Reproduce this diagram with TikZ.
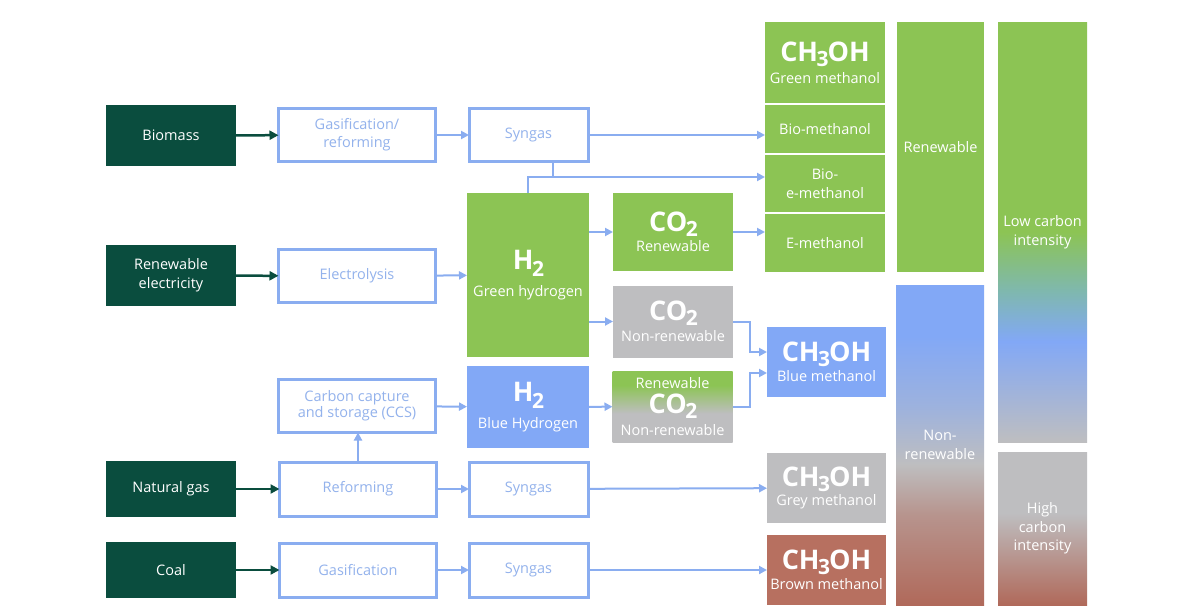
\documentclass[tikz,border=0pt]{standalone}
\usepackage{fontspec}
\setmainfont{Open Sans}
\usetikzlibrary{arrows.meta,positioning}
\definecolor{MethGreen}{HTML}{8CC454}
\definecolor{MethBlue}{HTML}{82A8F6}
\definecolor{MethGrey}{HTML}{BEBEC0}
\definecolor{MethBrown}{HTML}{B77060}
\definecolor{ColBrown}{HTML}{B0695A}
\definecolor{ColTeal}{HTML}{7FB8AE}
\definecolor{SrcDark}{HTML}{0A4D3E}
\definecolor{LineBlue}{HTML}{8AADF0}
\definecolor{TextBlue}{HTML}{93B2EC}
\pgfdeclareverticalshading{co2mix}{100bp}{color(0bp)=(MethGrey); color(25bp)=(MethGrey); color(45bp)=(MethGrey); color(65bp)=(MethGreen); color(75bp)=(MethGreen); color(100bp)=(MethGreen)}
\pgfdeclareverticalshading{nonren}{100bp}{color(0bp)=(ColBrown); color(25bp)=(ColBrown); color(39bp)=(ColBrown!50!MethGrey); color(47bp)=(MethGrey); color(56bp)=(MethBlue!55!MethGrey); color(67bp)=(MethBlue); color(75bp)=(MethBlue); color(100bp)=(MethBlue)}
\pgfdeclareverticalshading{lowcarb}{100bp}{color(0bp)=(MethGrey); color(25bp)=(MethGrey); color(31bp)=(MethBlue!50!MethGrey); color(37bp)=(MethBlue); color(43bp)=(ColTeal); color(50bp)=(MethGreen); color(75bp)=(MethGreen); color(100bp)=(MethGreen)}
\pgfdeclareverticalshading{highcarb}{100bp}{color(0bp)=(ColBrown); color(25bp)=(ColBrown); color(55bp)=(MethGrey); color(75bp)=(MethGrey); color(100bp)=(MethGrey)}
\newcommand{\labelsize}{\fontsize{14.5}{19}\selectfont}
\newcommand{\formula}[1]{{\fontsize{27}{28}\selectfont\bfseries #1}}
\newcommand{\lowsub}[2][5pt]{\kern-1.5pt\raisebox{-#1}{\fontsize{21}{21}\selectfont #2}\kern-1pt}
\tikzset{
  srcbox/.style={fill=SrcDark,text=white,minimum width=130pt,minimum height=61pt,inner sep=0pt,outer sep=0pt,align=center,font=\labelsize},
  procbox/.style={draw=LineBlue,line width=3pt,fill=white,text=TextBlue,minimum width=157pt,minimum height=53pt,inner sep=0pt,outer sep=0pt,align=center,font=\labelsize},
  synbox/.style={procbox,minimum width=119pt},
  fillbox/.style={text=white,inner sep=0pt,outer sep=0pt,align=center,font=\labelsize},
  co2box/.style={fillbox,minimum width=120pt},
  methbox/.style={fillbox,minimum width=120pt},
  colbox/.style={fillbox,minimum width=88pt},
  flowarrow/.style={-{Triangle[length=8pt,width=8pt]},line width=2pt,draw=LineBlue},
  flowline/.style={line width=2pt,draw=LineBlue},
  srcarrow/.style={-{Triangle[length=9pt,width=9pt]},line width=2.5pt,draw=SrcDark}
}
\begin{document}
\begin{tikzpicture}[x=1pt,y=-1pt]
\useasboundingbox[fill=white] (0,0) rectangle (1200,616);
% sources
\node[srcbox] (biomass) at (171,135.5) {Biomass};
\node[srcbox] (renel) at (171,275.5) {Renewable\\electricity};
\node[srcbox,minimum height=56pt] (natgas) at (171,489) {Natural gas};
\node[srcbox,minimum height=56pt] (coal) at (171,570) {Coal};
% processes
\node[procbox] (gasref) at (357,135) {Gasification/\\[-1pt]reforming};
\node[procbox] (electro) at (357,276) {Electrolysis};
\node[procbox] (ccs) at (357,406) {Carbon capture\\[-3pt]and storage (CCS)};
\node[procbox,minimum height=54pt] (reform) at (358,489) {Reforming};
\node[procbox,minimum height=54pt] (gasif) at (358,570) {Gasification};
\node[synbox] (syn1) at (528.5,135) {Syngas};
\node[synbox,minimum height=54pt] (syn2) at (528.5,489) {Syngas};
\node[synbox,minimum height=54pt] (syn3) at (528.5,570) {Syngas};
% hydrogen
\node[fillbox,fill=MethGreen,minimum width=122pt,minimum height=164pt] (h2green) at (528,275) {\formula{H\lowsub[7pt]{2}}\\[8pt]Green hydrogen};
\node[fillbox,fill=MethBlue,minimum width=122pt,minimum height=82pt] (h2blue) at (528,407) {\formula{H\lowsub[7pt]{2}}\\[8pt]Blue Hydrogen};
% carbon dioxide
\node[co2box,fill=MethGreen,minimum height=78pt] (co2ren) at (673,232) {\formula{CO\lowsub{2}}\\[1pt]Renewable};
\node[co2box,fill=MethGrey,minimum height=72pt] (co2non) at (673,321.5) {\formula{CO\lowsub{2}}\\[2pt]Non-renewable};
\node[co2box,shading=co2mix,minimum height=71pt] (co2mix) at (672.5,406.5) {Renewable\\[4.5pt]\formula{CO\lowsub{2}}\\[3pt]Non-renewable};
% methanol
\node[methbox,fill=MethGreen,minimum height=81pt] (mgreen) at (825,62.5) {\formula{CH\lowsub{3}OH}\\[3pt]Green methanol};
\node[methbox,fill=MethGreen,minimum height=48pt] (mbio) at (825,129) {Bio-methanol};
\node[methbox,fill=MethGreen,minimum height=57pt] (mbioe) at (825,183.5) {Bio-\\e-methanol};
\node[methbox,fill=MethGreen,minimum height=58pt] (me) at (825,243) {E-methanol};
\node[methbox,fill=MethBlue,minimum width=119pt,minimum height=70pt] (mblue) at (826.5,362) {\formula{CH\lowsub{3}OH}\\[1pt]Blue methanol};
\node[methbox,fill=MethGrey,minimum width=119pt,minimum height=70pt] (mgrey) at (826.5,488) {\formula{CH\lowsub{3}OH}\\[0pt]Grey methanol};
\node[methbox,fill=MethBrown,minimum width=119pt,minimum height=70pt] (mbrown) at (826.5,570) {\formula{CH\lowsub{3}OH}\\[1pt]Brown methanol};
% classes
\node[colbox,fill=MethGreen,minimum width=87pt,minimum height=250pt] (renew) at (940.5,147) {Renewable};
\node[colbox,shading=nonren,minimum height=320pt] (nonren) at (940,445) {Non-\\renewable};
\node[colbox,shading=lowcarb,minimum width=89pt,minimum height=420pt] (lowc) at (1042.5,232) {Low carbon\\intensity};
\node[colbox,shading=highcarb,minimum width=89pt,minimum height=153pt] (highc) at (1042.5,528.5) {High\\[-0.5pt]carbon\\[-0.5pt]intensity};
% connectors
\draw[srcarrow] (biomass) -- (gasref);
\draw[srcarrow] (renel) -- (electro);
\draw[srcarrow] (natgas) -- (reform);
\draw[srcarrow] (coal) -- (gasif);
\draw[flowarrow] (gasref) -- (syn1);
\draw[flowarrow] (syn1.east) -- (syn1.east -| mbio.west);
\coordinate (jn) at (553,177);
\draw[flowline] (syn1.south -| jn) -- (jn);
\draw[flowarrow] (h2green.north) |- (jn -| mbioe.west);
\draw[flowarrow] (electro) -- (h2green);
\draw[flowarrow] (h2green.east |- co2ren) -- (co2ren.west);
\draw[flowarrow] (h2green.east |- co2non) -- (co2non.west);
\draw[flowarrow] (co2ren.east) -- (co2ren.east -| me.west);
\draw[flowarrow] (co2non.east) -- ++(17,0) |- ([yshift=10pt]mblue.west);
\draw[flowarrow] (co2mix.east) -- ++(17.5,0) |- ([yshift=-11pt]mblue.west);
\draw[flowarrow] (ccs) -- (h2blue);
\draw[flowarrow] (h2blue) -- (co2mix);
\draw[flowarrow] (reform.north) -- (reform.north |- ccs.south);
\draw[flowarrow] (reform) -- (syn2);
\draw[flowarrow] (syn2) -- (mgrey);
\draw[flowarrow] (gasif) -- (syn3);
\draw[flowarrow] (syn3) -- (mbrown);
\end{tikzpicture}
\end{document}
